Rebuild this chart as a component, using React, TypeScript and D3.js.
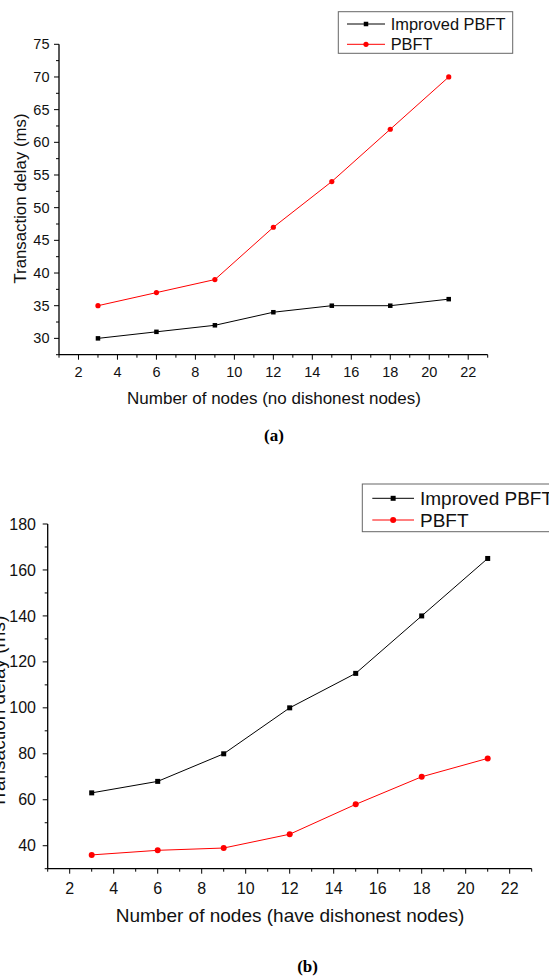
import React from "react";
import * as d3 from "d3";

const nodes = [3, 6, 9, 12, 15, 18, 21];
const seriesNames = ["Improved PBFT", "PBFT"];
const seriesColors = ["#000000", "#ff0000"];

const aImproved = [30, 31, 32, 34, 35, 35, 36];
const aPBFT = [35, 37, 39, 47, 54, 62, 70];
const bImproved = [63, 68, 80, 100, 115, 140, 165];
const bPBFT = [36, 38, 39, 45, 58, 70, 78];

const xTicks = [2, 4, 6, 8, 10, 12, 14, 16, 18, 20, 22];
const aYTicks = [30, 35, 40, 45, 50, 55, 60, 65, 70, 75];
const bYTicks = [40, 60, 80, 100, 120, 140, 160, 180];

const FONT = "'Liberation Sans', Arial, sans-serif";

type PanelProps = {
  x0: number; x1: number; yTop: number; yBot: number;
  yDomain: [number, number];
  yTicks: number[]; yMinorStep: number;
  series: number[][];
  tickFont: number; titleFont: number;
  xTitle: string; xTickBase: number; xTitleBase: number; xTitleX: number;
  yTitle: { x: number; y: number; size: number };
  legend: { x: number; y: number; w: number; h: number; font: number; rowH: number; lineX0: number; lineX1: number; textX: number; r0: number };
  marker: { sq: number; r: number };
  caption: { text: string; x: number; y: number };
  yLabelEnd: number;
};

function Panel(p: PanelProps) {
  const x = d3.scaleLinear().domain([1, 23]).range([p.x0, p.x1]);
  const y = d3.scaleLinear().domain(p.yDomain).range([p.yBot, p.yTop]);
  const line = d3.line<number>().x((_, i) => x(nodes[i])).y((v) => y(v));
  const xMinor = d3.range(1, 24, 1).filter((v) => !xTicks.includes(v));
  const yMinor = d3.range(p.yDomain[0], p.yDomain[1] + 0.001, p.yMinorStep).filter((v) => !p.yTicks.some((t) => Math.abs(t - v) < 1e-6));
  const axisColor = "#000";
  return (
    <g>
      <line x1={p.x0} x2={p.x0} y1={p.yTop} y2={p.yBot} stroke={axisColor} strokeWidth={1.3} />
      <line x1={p.x0} x2={p.x1} y1={p.yBot} y2={p.yBot} stroke={axisColor} strokeWidth={1.3} />
      {p.yTicks.map((t) => (
        <g key={"yt" + t}>
          <line x1={p.x0 - 5} x2={p.x0} y1={y(t)} y2={y(t)} stroke={axisColor} strokeWidth={1} />
          <text x={p.yLabelEnd} y={y(t)} dy="0.35em" textAnchor="end" fontSize={p.tickFont} fontFamily={FONT} fill="#111">{t}</text>
        </g>
      ))}
      {yMinor.map((t) => (
        <line key={"ym" + t} x1={p.x0 - 3} x2={p.x0} y1={y(t)} y2={y(t)} stroke={axisColor} strokeWidth={1} />
      ))}
      {xTicks.map((t) => (
        <g key={"xt" + t}>
          <line x1={x(t)} x2={x(t)} y1={p.yBot} y2={p.yBot + 5} stroke={axisColor} strokeWidth={1} />
          <text x={x(t)} y={p.xTickBase} textAnchor="middle" fontSize={p.tickFont} fontFamily={FONT} fill="#111">{t}</text>
        </g>
      ))}
      {xMinor.map((t) => (
        <line key={"xm" + t} x1={x(t)} x2={x(t)} y1={p.yBot} y2={p.yBot + 3} stroke={axisColor} strokeWidth={1} />
      ))}
      <text x={p.xTitleX} y={p.xTitleBase} textAnchor="middle" fontSize={p.titleFont} fontFamily={FONT} fill="#111">{p.xTitle}</text>
      <text transform={`translate(${p.yTitle.x},${p.yTitle.y}) rotate(-90)`} textAnchor="middle" fontSize={p.yTitle.size} fontFamily={FONT} fill="#111">Transaction delay (ms)</text>

      {p.series.map((s, si) => (
        <g key={"s" + si}>
          <path d={line(s) || ""} fill="none" stroke={seriesColors[si]} strokeWidth={1} />
          {s.map((v, i) =>
            si === 0 ? (
              <rect key={i} x={x(nodes[i]) - p.marker.sq / 2} y={y(v) - p.marker.sq / 2} width={p.marker.sq} height={p.marker.sq} fill="#000" />
            ) : (
              <circle key={i} cx={x(nodes[i])} cy={y(v)} r={p.marker.r} fill="#ff0000" />
            )
          )}
        </g>
      ))}

      <rect x={p.legend.x} y={p.legend.y} width={p.legend.w} height={p.legend.h} fill="#fff" stroke="#666" strokeWidth={1} />
      {seriesNames.map((n, i) => {
        const cy = p.legend.r0 + i * p.legend.rowH;
        const mx = (p.legend.lineX0 + p.legend.lineX1) / 2;
        return (
          <g key={"lg" + i}>
            <line x1={p.legend.lineX0} x2={p.legend.lineX1} y1={cy} y2={cy} stroke={seriesColors[i]} strokeWidth={1} />
            {i === 0 ? (
              <rect x={mx - p.marker.sq / 2} y={cy - p.marker.sq / 2} width={p.marker.sq} height={p.marker.sq} fill="#000" />
            ) : (
              <circle cx={mx} cy={cy} r={p.marker.r} fill="#ff0000" />
            )}
            <text x={p.legend.textX} y={cy} dy="0.36em" fontSize={p.legend.font} fontFamily={FONT} fill="#111">{n}</text>
          </g>
        );
      })}

      <text x={p.caption.x} y={p.caption.y} textAnchor="middle" fontSize={17} fontWeight="bold" fontFamily="'Liberation Serif', 'Times New Roman', serif" fill="#000">{p.caption.text}</text>
    </g>
  );
}

export default function App() {
  return (
    <svg width={549} height={977} style={{ position: "absolute", left: 0, top: 0, background: "#fff" }}>
      <rect width={549} height={977} fill="#fff" />
      <Panel
        x0={59} x1={487.7} yTop={44.3} yBot={354.7}
        yDomain={[27.5, 75]} yTicks={aYTicks} yMinorStep={2.5}
        series={[aImproved, aPBFT]}
        tickFont={14.5} titleFont={17}
        xTitle="Number of nodes (no dishonest nodes)" xTickBase={376.5} xTitleBase={404} xTitleX={274}
        yTitle={{ x: 26, y: 198.5, size: 16.8 }}
        legend={{ x: 338.3, y: 11.7, w: 174.4, h: 41.6, font: 16.4, rowH: 20.3, lineX0: 347, lineX1: 385, textX: 390.7, r0: 24 }}
        marker={{ sq: 4.5, r: 2.6 }}
        caption={{ text: "(a)", x: 274, y: 441 }}
        yLabelEnd={49.5}
      />
      <Panel
        x0={47.7} x1={531.7} yTop={524} yBot={868.7}
        yDomain={[30, 180]} yTicks={bYTicks} yMinorStep={10}
        series={[bImproved, bPBFT]}
        tickFont={16} titleFont={19}
        xTitle="Number of nodes (have dishonest nodes)" xTickBase={893.5} xTitleBase={921.5} xTitleX={290}
        yTitle={{ x: 5, y: 712, size: 19 }}
        legend={{ x: 362.3, y: 484, w: 200, h: 47.7, font: 19, rowH: 21.7, lineX0: 372.3, lineX1: 414, textX: 420, r0: 498.3 }}
        marker={{ sq: 5, r: 3 }}
        caption={{ text: "(b)", x: 307.6, y: 972 }}
        yLabelEnd={36}
      />
    </svg>
  );
}
